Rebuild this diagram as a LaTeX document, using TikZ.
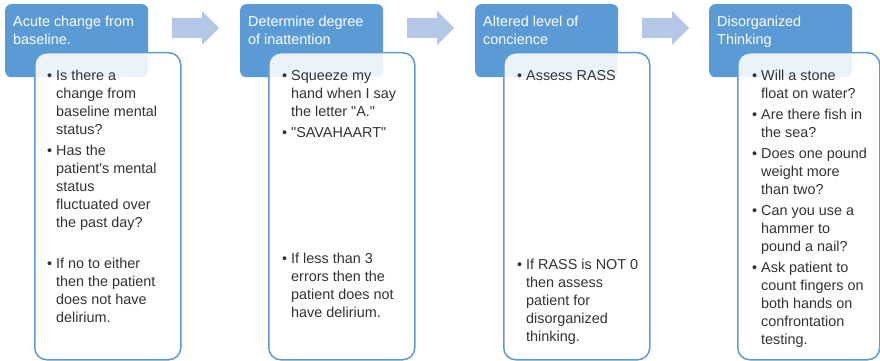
\documentclass[tikz,border=0pt]{standalone}
\usepackage{fontspec}
\newfontfamily\hv{Liberation Sans}
\definecolor{hblue}{HTML}{5B9BD5}
\definecolor{ablue}{HTML}{B4C7E7}
\definecolor{tgray}{HTML}{333333}
\tikzset{
  hdr/.style={fill=hblue, draw=none, rounded corners=6pt, anchor=north west, minimum width=143pt, minimum height=73pt, inner sep=0pt},
  cbox/.style={fill=white, fill opacity=0.88, draw=hblue, line width=1.5pt, rounded corners=12pt, anchor=north west, minimum width=146pt, minimum height=307pt, inner sep=0pt},
  htxt/.style={anchor=base west, inner sep=0pt, text=white, font=\hv\fontsize{14.4}{18}\selectfont},
  txt/.style={anchor=base west, inner sep=0pt, text=tgray, font=\hv\fontsize{14.4}{18}\selectfont},
  blockarrow/.style={fill=ablue, draw=none}
}
\newcommand\Ln[4]{\node[txt] (#1) at (#2,#3) {#4};}
\newcommand\Bu[3]{\node[txt] (#1) at (#2,#3) {•};}
\newcommand\Hl[4]{\node[htxt] (#1) at (#2,#3) {#4};}
\begin{document}
\begin{tikzpicture}[x=1pt,y=-1pt]
\useasboundingbox (0,0) rectangle (880,361);
% headers
\node[hdr] (h1) at (5,4) {};
\node[hdr] (h2) at (240,4) {};
\node[hdr] (h3) at (475,4) {};
\node[hdr] (h4) at (709,4) {};
\Hl{h1a}{13}{26.5}{Acute change from}
\Hl{h1b}{13}{44.5}{baseline.}
\Hl{h2a}{248}{26.5}{Determine degree}
\Hl{h2b}{248}{44.5}{of inattention}
\Hl{h3a}{483}{26.5}{Altered level of}
\Hl{h3b}{483}{44.5}{concience}
\Hl{h4a}{717}{26.5}{Disorganized}
\Hl{h4b}{717}{44.5}{Thinking}
% content boxes
\node[cbox] (c1) at (34,52) {};
\node[cbox] (c2) at (268,52) {};
\node[cbox] (c3) at (503,52) {};
\node[cbox, minimum width=142pt] (c4) at (737,52) {};
% block arrows
\foreach \x/\n in {172/a1,407/a2,642/a3}{
  \coordinate (\n) at (\x,28);
  \fill[blockarrow] (\n) ++(0,-10) -- ++(30,0) -- ++(0,-7) -- ++(17,17) -- ++(-17,17) -- ++(0,-7) -- ++(-30,0) -- cycle;
}
% column 1
\Bu{b1a}{47}{80}
\Ln{l1a}{56}{80}{Is there a}
\Ln{l1b}{56}{98}{change from}
\Ln{l1c}{56}{116}{baseline mental}
\Ln{l1d}{56}{134}{status?}
\Bu{b1b}{47}{155}
\Ln{l1e}{56}{155}{Has the}
\Ln{l1f}{56}{173}{patient's mental}
\Ln{l1g}{56}{191}{status}
\Ln{l1h}{56}{209}{fluctuated over}
\Ln{l1i}{56}{227}{the past day?}
\Bu{b1c}{47}{268}
\Ln{l1j}{56}{268}{If no to either}
\Ln{l1k}{56}{286}{then the patient}
\Ln{l1l}{56}{304}{does not have}
\Ln{l1m}{56}{322}{delirium.}
% column 2
\Bu{b2a}{282}{80}
\Ln{l2a}{291}{80}{Squeeze my}
\Ln{l2b}{291}{98}{hand when I say}
\Ln{l2c}{291}{116}{the letter "A."}
\Bu{b2b}{282}{137}
\Ln{l2d}{291}{137}{"SAVAHAART"}
\Bu{b2c}{282}{263}
\Ln{l2e}{291}{263}{If less than 3}
\Ln{l2f}{291}{281}{errors then the}
\Ln{l2g}{291}{299}{patient does not}
\Ln{l2h}{291}{317}{have delirium.}
% column 3
\Bu{b3a}{517}{80}
\Ln{l3a}{526}{80}{Assess RASS}
\Bu{b3b}{517}{269}
\Ln{l3b}{526}{269}{If RASS is NOT 0}
\Ln{l3c}{526}{287}{then assess}
\Ln{l3d}{526}{305}{patient for}
\Ln{l3e}{526}{323}{disorganized}
\Ln{l3f}{526}{341}{thinking.}
% column 4
\Bu{b4a}{752}{80}
\Ln{l4a}{761}{80}{Will a stone}
\Ln{l4b}{761}{98}{float on water?}
\Bu{b4b}{752}{119}
\Ln{l4c}{761}{119}{Are there fish in}
\Ln{l4d}{761}{137}{the sea?}
\Bu{b4c}{752}{158}
\Ln{l4e}{761}{158}{Does one pound}
\Ln{l4f}{761}{176}{weight more}
\Ln{l4g}{761}{194}{than two?}
\Bu{b4d}{752}{215}
\Ln{l4h}{761}{215}{Can you use a}
\Ln{l4i}{761}{233}{hammer to}
\Ln{l4j}{761}{251}{pound a nail?}
\Bu{b4e}{752}{272}
\Ln{l4k}{761}{272}{Ask patient to}
\Ln{l4l}{761}{290}{count fingers on}
\Ln{l4m}{761}{308}{both hands on}
\Ln{l4n}{761}{326}{confrontation}
\Ln{l4o}{761}{344}{testing.}
\end{tikzpicture}
\end{document}
